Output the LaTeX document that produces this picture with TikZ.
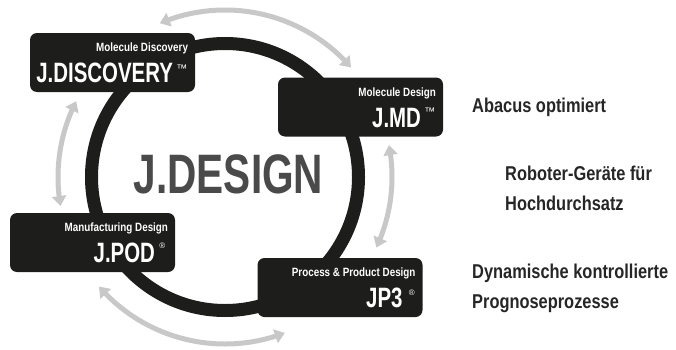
\documentclass[tikz,border=0pt]{standalone}
\usepackage{fontspec}
\setmainfont{Liberation Sans}
\newfontfamily\condcaps[FakeStretch=0.73]{Liberation Sans}
\newfontfamily\condlower[FakeStretch=0.82]{Liberation Sans}
\usetikzlibrary{positioning,arrows.meta,bending}
\definecolor{ringblack}{HTML}{1D1D1B}
\definecolor{arrowgray}{HTML}{C8C8C8}
\definecolor{titlegray}{HTML}{4A4A4A}
\definecolor{notegray}{HTML}{262626}

\begin{document}
\begin{tikzpicture}[x=1pt, y=1pt,
  module/.style={rectangle, rounded corners=7pt, fill=ringblack, minimum width=165pt, minimum height=59pt, inner sep=0pt},
  subtitle/.style={anchor=base east, inner sep=0pt, text=white, font=\condlower\bfseries\fontsize{12}{12}\selectfont},
  product/.style={anchor=base east, inner sep=0pt, text=white, font=\condcaps\bfseries\fontsize{28}{28}\selectfont},
  brand/.style={anchor=north west, inner sep=0pt, text=white, font=\fontsize{#1}{#1}\selectfont},
  note/.style={anchor=base west, inner sep=0pt, text=notegray, font=\condlower\bfseries\fontsize{20}{20}\selectfont},
  swaparrow/.style={draw=arrowgray, line width=5pt, {Triangle[width=14pt,length=10pt]}-{Triangle[width=14pt,length=10pt]}}]
\useasboundingbox (0,0) rectangle (676,349);
\coordinate (hub) at (225,172);

% ring and exchange arrows
\draw[ringblack, line width=13pt] (hub) circle[radius=133.5pt];
\draw[swaparrow] ([shift={(113:167)}]hub) arc[start angle=113, end angle=41, radius=167pt];
\draw[swaparrow] ([shift={(153:167)}]hub) arc[start angle=153, end angle=190, radius=167pt];
\draw[swaparrow] ([shift={(11:167)}]hub) arc[start angle=11, end angle=-25, radius=167pt];
\draw[swaparrow] ([shift={(-139:167)}]hub) arc[start angle=-139, end angle=-69, radius=167pt];

% modules
\node[module] (disc) at (112.5,286.5) {};
\node[subtitle] (disc-sub) at ([xshift=-7pt,yshift=-19pt]disc.north east) {Molecule Discovery};
\node[product] (disc-name) at ([xshift=-22pt,yshift=-50pt]disc.north east) {J.DISCOVERY};
\node[brand=11] (disc-tm) at ([xshift=3pt,yshift=-2pt]disc-name.north east) {™};

\node[module] (md) at (360.5,242) {};
\node[subtitle] (md-sub) at ([xshift=-7pt,yshift=-19pt]md.north east) {Molecule Design};
\node[product] (md-name) at ([xshift=-22pt,yshift=-50pt]md.north east) {J.MD};
\node[brand=11] (md-tm) at ([xshift=3pt]md-name.north east) {™};

\node[module] (pod) at (92.5,106.5) {};
\node[subtitle] (pod-sub) at ([xshift=-7pt,yshift=-19pt]pod.north east) {Manufacturing Design};
\node[product] (pod-name) at ([xshift=-20pt,yshift=-50pt]pod.north east) {J.POD};
\node[brand=8] (pod-r) at ([xshift=4pt]pod-name.north east) {®};

\node[module] (jp3) at (340,61.5) {};
\node[subtitle] (jp3-sub) at ([xshift=-7pt,yshift=-19pt]jp3.north east) {Process \& Product Design};
\node[product] (jp3-name) at ([xshift=-20pt,yshift=-50pt]jp3.north east) {JP3};
\node[brand=8] (jp3-r) at ([xshift=6pt,yshift=-2pt]jp3-name.north east) {®};

% centre title
\node[anchor=base, inner sep=0pt, text=titlegray, font=\condcaps\bfseries\fontsize{55.6}{56}\selectfont] (title) at (228.5,156) {J.DESIGN};

% notes on the right
\node[note] (abacus) at (472,236.3) {Abacus optimiert};
\node[note] (robot) at (505,168.3) {Roboter-Geräte für};
\node[note] (robot-2) at ([yshift=-30pt]robot.base west) {Hochdurchsatz};
\node[note] (dyn) at (472,70.7) {Dynamische kontrollierte};
\node[note] (dyn-2) at ([yshift=-30pt]dyn.base west) {Prognoseprozesse};
\end{tikzpicture}
\end{document}
